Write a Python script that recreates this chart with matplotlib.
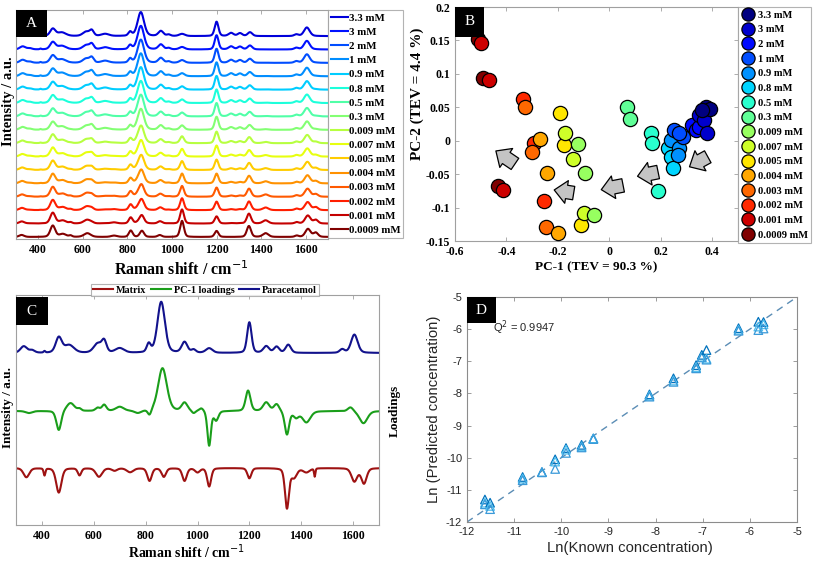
import numpy as np
import matplotlib
matplotlib.use("Agg")
import matplotlib.pyplot as plt
from matplotlib.patches import Rectangle, FancyArrowPatch
from matplotlib.lines import Line2D
from matplotlib.font_manager import FontProperties

plt.rcParams["axes.unicode_minus"] = False
SERIF = "Liberation Serif"
SANS = "Liberation Sans"

# --- data -------------------------------------------------------------------
conc_labels = ["3.3 mM", "3 mM", "2 mM", "1 mM", "0.9 mM", "0.8 mM", "0.5 mM",
               "0.3 mM", "0.009 mM", "0.007 mM", "0.005 mM", "0.004 mM",
               "0.003 mM", "0.002 mM", "0.001 mM", "0.0009 mM"]

# paracetamol band table (cm-1, relative height, half width)
para_pos = [330, 362, 410, 465, 505, 615, 640, 700, 812, 860, 950, 985,
            1045, 1200, 1265, 1305, 1350, 1558, 1605]
para_amp = [0.13, 0.05, 0.03, 0.30, 0.15, 0.18, 0.22, 0.09, 0.17, 1.00, 0.21,
            0.06, 0.09, 0.60, 0.13, 0.12, 0.16, 0.07, 0.36]
para_wid = [15, 12, 4, 14, 22, 18, 11, 20, 9, 17, 13, 10, 15, 10, 13, 12, 12,
            11, 15]

# matrix (pill excipients) band table, plotted inverted in panel C
matrix_pos = [340, 410, 465, 545, 620, 680, 740, 815, 870, 950, 1000, 1045,
              1200, 1345, 1372, 1420, 1452, 1605, 1642]
matrix_amp = [0.18, 0.14, 0.48, 0.14, 0.17, 0.05, 0.08, 0.25, 0.17, 0.25, 0.08,
              0.36, 0.20, 0.78, 0.18, 0.08, 0.16, 0.26, 0.30]
matrix_wid = [13, 4, 12, 8, 14, 12, 15, 10, 10, 10, 11, 9, 9, 9, 13, 15, 3,
              13, 12]

# PC-1 loadings band table
load_pos = [350, 465, 510, 545, 615, 640, 700, 770, 815, 865, 950, 985, 1015,
            1045, 1072, 1195, 1265, 1305, 1345, 1380, 1420, 1590, 1640]
load_amp = [-0.04, -0.38, 0.16, 0.04, 0.06, 0.12, 0.08, -0.05, -0.11, 0.84,
            0.16, -0.05, 0.06, -0.68, -0.18, 0.40, 0.17, 0.14, -0.46, -0.12,
            -0.22, 0.08, -0.24]
load_wid = [15, 11, 18, 8, 10, 10, 18, 15, 8, 20, 13, 8, 10, 8, 10, 11, 14, 12,
            10, 12, 18, 12, 18]

# lowest-concentration spectrum in panel A (spacing units)
low_pos = [325, 465, 510, 545, 620, 740, 815, 865, 945, 1045, 1200, 1345,
           1420, 1560, 1610, 1645]
low_amp = [0.15, 0.85, 0.22, 0.10, 0.28, 0.10, 0.48, 0.46, 0.14, 1.20, 0.45,
           0.82, 0.28, 0.10, 0.60, 0.32]
low_wid = [13, 13, 18, 8, 18, 16, 10, 11, 11, 10, 10, 11, 15, 10, 14, 12]

# share of the paracetamol-like profile per concentration (top -> bottom)
para_share = [1.00, 0.98, 0.96, 0.94, 0.92, 0.90, 0.88, 0.84, 0.66, 0.60,
              0.52, 0.45, 0.38, 0.30, 0.14, 0.00]
top_height = 1.79

# PCA scores (three replicates per concentration)
pc1 = [[0.374, 0.393, 0.362], [0.349, 0.368, 0.378], [0.323, 0.336, 0.350],
       [0.253, 0.285, 0.270], [0.240, 0.272, 0.265], [0.227, 0.240, 0.246],
       [0.160, 0.165, 0.188], [0.067, 0.079], [-0.123, -0.094, -0.058],
       [-0.173, -0.142, -0.097], [-0.190, -0.177, -0.110],
       [-0.269, -0.244, -0.200], [-0.328, -0.301, -0.247],
       [-0.337, -0.292, -0.256], [-0.497, -0.468, -0.414],
       [-0.510, -0.491, -0.433]]
pc2 = [[0.051, 0.048, 0.046], [0.0385, 0.031, 0.012], [0.0235, 0.016, 0.021],
       [0.016, 0.006, 0.012], [0.001, -0.011, -0.021], [-0.011, -0.024, -0.041],
       [0.012, -0.004, -0.075], [0.050, 0.032], [-0.0055, -0.048, -0.1115],
       [0.012, -0.028, -0.1075], [0.042, -0.007, -0.1255],
       [0.002, -0.048, -0.138], [0.051, -0.0165, -0.129],
       [0.062, -0.004, -0.090], [0.146, 0.091, -0.073],
       [0.152, 0.0935, -0.068]]
# direction arrows (tail, head) in score space
arrows = [((0.392, -0.022), (0.302, -0.041)), ((0.200, -0.046), (0.099, -0.054)),
          ((0.064, -0.066), (-0.042, -0.074)), ((-0.128, -0.079), (-0.225, -0.073)),
          ((-0.358, -0.037), (-0.450, -0.013))]

# PLS validation
ln_known = [-11.62, -11.62, -11.62, -11.51, -11.51, -11.51, -10.82, -10.82,
            -10.82, -10.41, -10.41, -10.41, -10.13, -10.13, -10.13, -9.90,
            -9.90, -9.90, -9.57, -9.57, -9.57, -9.32, -9.32, -9.32, -8.13,
            -8.13, -8.13, -7.62, -7.62, -7.62, -7.14, -7.14, -7.14, -7.02,
            -7.02, -7.02, -6.92, -6.92, -6.92, -6.24, -6.24, -6.24, -5.82,
            -5.82, -5.82, -5.71, -5.71, -5.71]
ln_pred = [-11.30, -11.40, -11.45, -11.40, -11.50, -11.60, -10.60, -10.65,
           -10.70, -10.45, -10.45, -10.45, -10.05, -10.12, -10.35, -9.70,
           -9.75, -9.85, -9.60, -9.65, -9.68, -9.40, -9.40, -9.42, -8.03,
           -8.07, -8.10, -7.53, -7.60, -7.64, -7.12, -7.18, -7.22, -6.80,
           -6.86, -6.88, -6.65, -6.92, -6.95, -5.97, -6.02, -6.05, -5.77,
           -5.92, -6.03, -5.78, -5.85, -5.98]
q2_text = "Q$^2$ = 0.9947"

shift = np.arange(300, 1701, 1.0)


def bands(pos, amp, wid):
    # pseudo-Voigt band profiles, wid = half width at half maximum
    out = np.zeros_like(shift)
    for c, h, w in zip(pos, amp, wid):
        d = shift - c
        g = np.exp(-np.log(2) * (d / w) ** 2)
        lor = w ** 2 / (d ** 2 + w ** 2)
        out += h * (0.7 * g + 0.3 * lor)
    return out


para = bands(para_pos, para_amp, para_wid)
matrix = bands(matrix_pos, matrix_amp, matrix_wid)
loads = bands(load_pos, load_amp, load_wid)
low = bands(low_pos, low_amp, low_wid)

W, H = 817, 562
fig = plt.figure(figsize=(W / 100, H / 100), dpi=100)


def box(l, t, r, b):
    return [l / W, 1 - b / H, (r - l) / W, (b - t) / H]


def tag(ax, letter, x1, y0, y1):
    ax.add_patch(Rectangle((0, y0), x1, y1 - y0, transform=ax.transAxes,
                           fc="black", ec="none", clip_on=False, zorder=10))
    ax.text(x1 / 2, (y0 + y1) / 2, letter, transform=ax.transAxes, color="white",
            ha="center", va="center", fontsize=11, family=SERIF, zorder=11)


def frame(ax, color="#a0a0a0"):
    for s in ax.spines.values():
        s.set_color(color)
        s.set_linewidth(0.8)
    ax.tick_params(direction="in", top=True, right=True, color=color,
                   length=3, width=0.6)


def bold_ticks(ax, size=8.5):
    for t in ax.get_xticklabels() + ax.get_yticklabels():
        t.set_fontproperties(FontProperties(family=SERIF, weight="bold",
                                            size=size))


bold = dict(family=SERIF, weight="bold")

# --- A: spectra -------------------------------------------------------------
axA = fig.add_axes(box(16, 10, 328, 239))
colsA = plt.cm.jet(np.linspace(0.08, 1.0, 16))
n = len(conc_labels)
for i, lab in enumerate(conc_labels):
    off = n - 1 - i
    y = off + top_height * para_share[i] * para + (1 - para_share[i]) * low
    axA.plot(shift, y, color=colsA[i], lw=1.5, label=lab)
axA.set_xlim(300, 1700)
axA.set_ylim(-0.15, 16.95)
axA.set_xticks(range(400, 1601, 200))
axA.set_yticks([])
frame(axA)
bold_ticks(axA)
axA.set_xlabel("Raman shift / cm$^{-1}$", fontsize=11.5, **bold)
axA.xaxis.set_label_coords(0.53, -0.095)
axA.set_ylabel("Intensity / a.u.", fontsize=10.5, **bold)
axA.yaxis.set_label_coords(-0.004, 0.6)
tag(axA, "A", 0.099, 0.882, 1.0)
legA = axA.legend(loc="upper left", bbox_to_anchor=(1.0, 1.0), borderaxespad=0,
                  prop=dict(size=7.8, **bold), handlelength=1.5,
                  handletextpad=0.1, labelspacing=0.42, borderpad=0.3,
                  frameon=True, fancybox=False)
legA.get_frame().set_edgecolor("#a0a0a0")
legA.get_frame().set_linewidth(0.8)

# --- B: PCA scores ----------------------------------------------------------
axB = fig.add_axes(box(455, 7, 738, 241))
colsB = plt.cm.jet(np.linspace(0, 1, 16))
handles = []
for i in range(n - 1, -1, -1):
    axB.scatter(pc1[i], pc2[i], s=105, color=colsB[i], edgecolors="black",
                linewidths=0.9, zorder=3)
for i in range(n):
    handles.append(Line2D([], [], ls="none", marker="o", markersize=9.5,
                          markerfacecolor=colsB[i], markeredgecolor="black",
                          markeredgewidth=0.9, label=conc_labels[i]))
for tail, head in arrows:
    axB.add_patch(FancyArrowPatch(tail, head, arrowstyle="simple,head_length=0.6,"
                                  "head_width=1.1,tail_width=0.65",
                                  mutation_scale=15, fc="#c4c4c4", ec="black",
                                  lw=0.9, zorder=4))
axB.set_xlim(-0.6, 0.5)
axB.set_ylim(-0.15, 0.2)
axB.set_xticks([-0.6, -0.4, -0.2, 0, 0.2, 0.4])
axB.set_xticklabels(["-0.6", "-0.4", "-0.2", "0", "0.2", "0.4"])
axB.set_yticks([-0.15, -0.1, -0.05, 0, 0.05, 0.1, 0.15, 0.2])
axB.set_yticklabels(["-0.15", "-0.1", "-0.05", "0", "0.05", "0.1", "0.15", "0.2"])
frame(axB)
bold_ticks(axB)
axB.set_xlabel("PC-1 (TEV = 90.3 %)", fontsize=9.5, **bold)
axB.xaxis.set_label_coords(0.5, -0.088)
axB.set_ylabel("PC-2 (TEV = 4.4 %)", fontsize=11, **bold)
axB.yaxis.set_label_coords(-0.11, 0.63)
tag(axB, "B", 0.102, 0.872, 1.0)
legB = axB.legend(handles=handles, loc="upper left", bbox_to_anchor=(1.0, 1.0),
                  borderaxespad=0, prop=dict(size=7.6, **bold), handlelength=1.2,
                  handletextpad=0.4, labelspacing=0.5, borderpad=0.3,
                  frameon=True, fancybox=False)
legB.get_frame().set_edgecolor("#a0a0a0")
legB.get_frame().set_linewidth(0.8)

# --- C: reference spectra and loadings --------------------------------------
axC = fig.add_axes(box(16, 295, 379, 525))
lm, = axC.plot(shift, 57 - 51 * matrix, color="#9e1212", lw=1.5, label="Matrix")
lg, = axC.plot(shift, 114 + 51 * loads, color="#1a9e1a", lw=1.5,
               label="PC-1 loadings")
lp, = axC.plot(shift, 172 + 51 * para, color="#12128c", lw=1.5,
               label="Paracetamol")
axC.set_xlim(300, 1700)
axC.set_ylim(0, 230)
axC.set_xticks(range(400, 1601, 200))
axC.set_yticks([])
frame(axC)
bold_ticks(axC)
axC.set_xlabel("Raman shift / cm$^{-1}$", fontsize=10, **bold)
axC.xaxis.set_label_coords(0.47, -0.075)
axC.set_ylabel("Intensity / a.u.", fontsize=9.5, **bold)
axC.yaxis.set_label_coords(-0.006, 0.51)
fig.text(395 / W, 1 - 411 / H, "Loadings", rotation=90, ha="center",
         va="center", fontsize=9.5, **bold)
tag(axC, "C", 0.087, 0.87, 0.99)
legC = fig.legend(handles=[lm, lg, lp], loc="center",
                  bbox_to_anchor=(205 / W, 1 - 290 / H), ncol=3,
                  prop=dict(size=7.3, **bold), handlelength=2.0,
                  handletextpad=0.3, columnspacing=0.4, borderpad=0.15,
                  frameon=True, fancybox=False)
legC.get_frame().set_edgecolor("#a0a0a0")
legC.get_frame().set_linewidth(0.8)

# --- D: predicted vs known --------------------------------------------------
axD = fig.add_axes(box(467, 297, 797, 522))
axD.plot([-12, -5], [-12, -5], ls=(0, (5, 4)), color="#5b8db5", lw=1.0)
edge = ["#0072bd", "#4dbeee", "#3a9ad9"] * (len(ln_known) // 3)
axD.scatter(ln_known, ln_pred, marker="^", s=38, facecolors="none",
            edgecolors=edge, linewidths=0.9, zorder=3)
axD.set_xlim(-12, -5)
axD.set_ylim(-12, -5)
axD.set_xticks(range(-12, -4))
axD.set_yticks(range(-12, -4))
frame(axD, "#8c8c8c")
axD.tick_params(labelsize=8, labelcolor="#262626")
for t in axD.get_xticklabels() + axD.get_yticklabels():
    t.set_family(SANS)
axD.set_xlabel("Ln(Known concentration)", fontsize=10.7, family=SANS,
               color="#262626")
axD.xaxis.set_label_coords(0.494, -0.085)
axD.set_ylabel("Ln (Predicted concentration)", fontsize=10.7, family=SANS,
               color="#262626")
axD.yaxis.set_label_coords(-0.08, 0.5)
axD.text(-11.45, -5.97, q2_text, fontsize=8, family=SANS, color="#262626",
         va="center")
tag(axD, "D", 0.088, 0.884, 1.0)

fig.savefig("out.png", dpi=100)
